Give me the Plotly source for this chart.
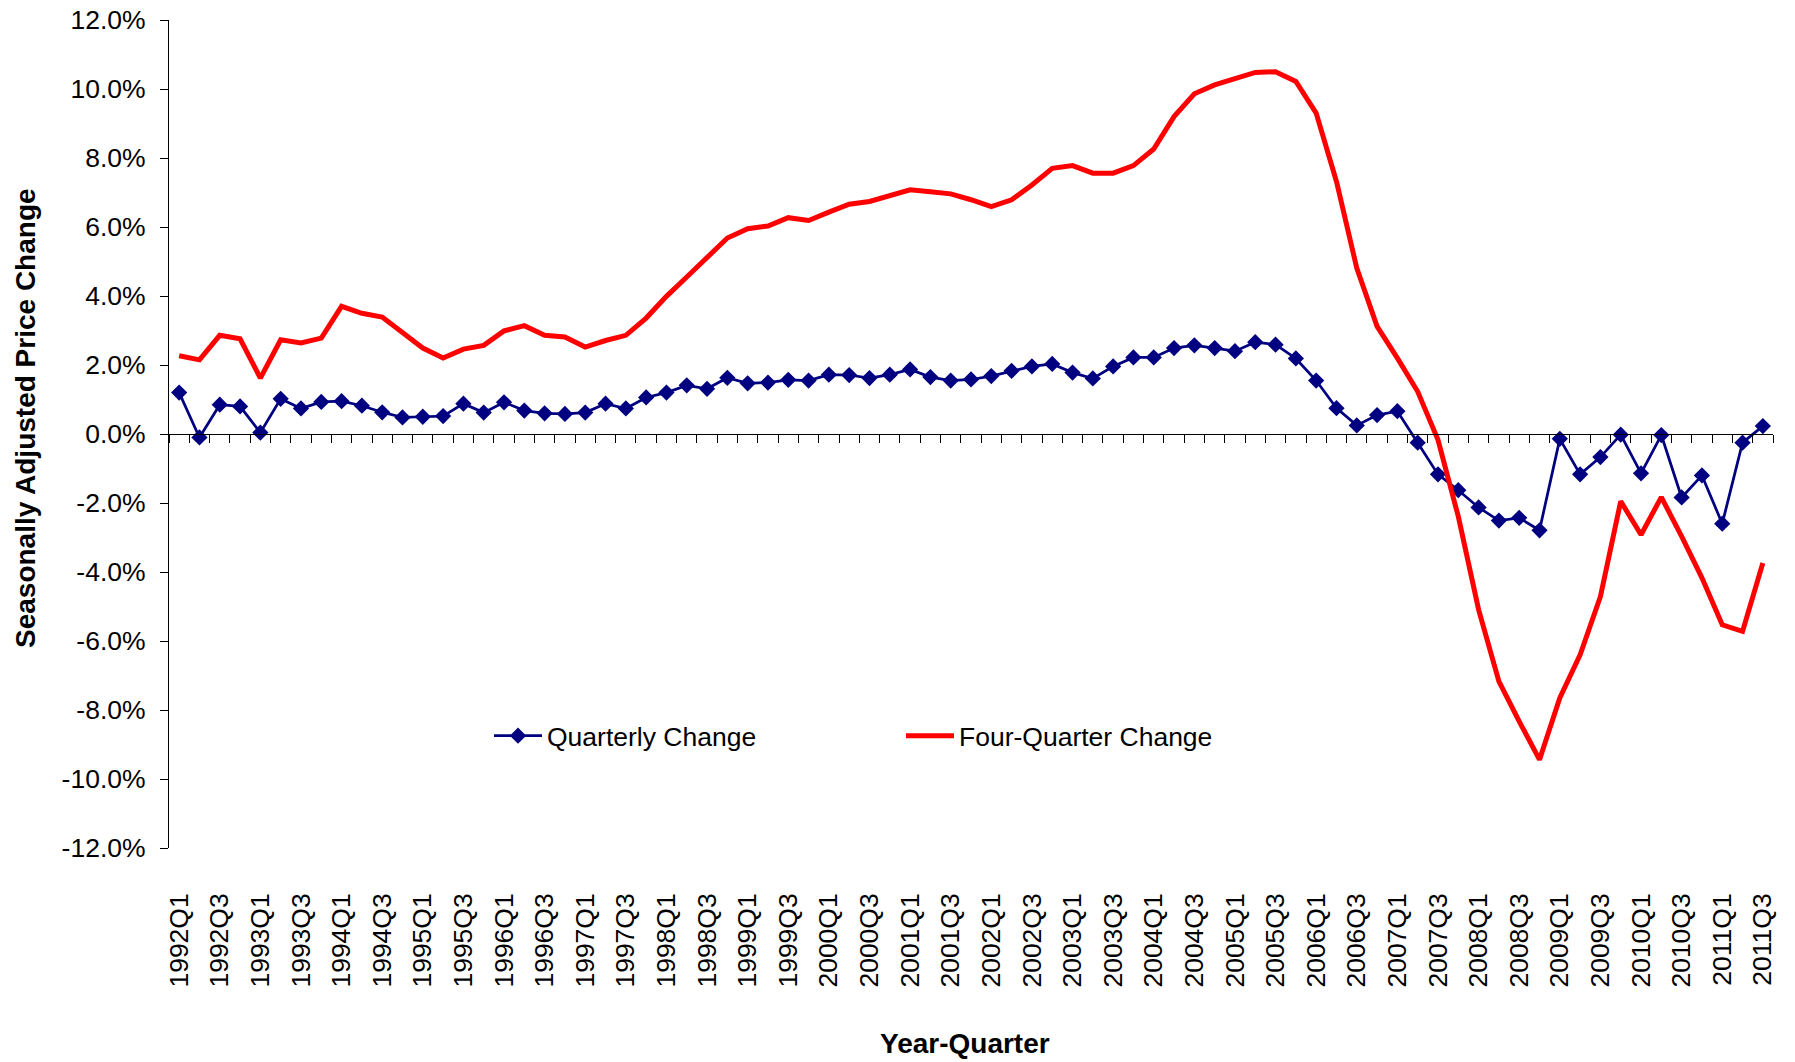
import plotly.graph_objects as go

years = list(range(1992, 2012))
quarters = [f"{y}Q{q}" for y in years for q in range(1, 5)][:79]

quarterly_change = [
    1.2, -0.1, 0.85, 0.8, 0.04, 1.02, 0.74, 0.93, 0.95, 0.82,
    0.63, 0.48, 0.5, 0.52, 0.88, 0.62, 0.92, 0.68, 0.6, 0.58,
    0.62, 0.88, 0.74, 1.06, 1.2, 1.41, 1.31, 1.63, 1.47, 1.49,
    1.57, 1.55, 1.72, 1.71, 1.62, 1.72, 1.87, 1.65, 1.55, 1.58,
    1.68, 1.83, 1.96, 2.03, 1.78, 1.61, 1.96, 2.22, 2.22, 2.49,
    2.57, 2.49, 2.4, 2.66, 2.59, 2.19, 1.55, 0.75, 0.25, 0.55,
    0.66, -0.25, -1.17, -1.63, -2.13, -2.51, -2.43, -2.79, -0.14, -1.17,
    -0.67, -0.02, -1.14, -0.03, -1.84, -1.2, -2.6, -0.25, 0.23,
]

four_quarter_change = [
    2.27, 2.15, 2.86, 2.76, 1.62, 2.73, 2.64, 2.78, 3.7, 3.5,
    3.39, 2.92, 2.49, 2.2, 2.46, 2.57, 2.99, 3.14, 2.86, 2.81,
    2.52, 2.71, 2.86, 3.36, 3.99, 4.55, 5.1, 5.68, 5.95, 6.03,
    6.27, 6.19, 6.43, 6.66, 6.74, 6.91, 7.08, 7.02, 6.96, 6.79,
    6.59, 6.79, 7.22, 7.7, 7.78, 7.56, 7.56, 7.78, 8.26, 9.2,
    9.86, 10.12, 10.29, 10.48, 10.5, 10.22, 9.3, 7.32, 4.81, 3.12,
    2.2, 1.23, -0.17, -2.39, -5.09, -7.17, -8.33, -9.44, -7.65, -6.4,
    -4.71, -1.95, -2.92, -1.83, -2.97, -4.17, -5.53, -5.72, -3.74,
]

y_ticks = [-12, -10, -8, -6, -4, -2, 0, 2, 4, 6, 8, 10, 12]
y_tick_text = [f"{v:.1f}%" for v in y_ticks]

FONT = "Liberation Sans, Arial, sans-serif"
NAVY = "#000080"
RED = "#FF0000"

fig = go.Figure()
fig.add_trace(go.Scatter(
    x=quarters, y=quarterly_change, name="Quarterly Change",
    mode="lines+markers", xaxis="x", yaxis="y",
    line=dict(color=NAVY, width=2.75),
    marker=dict(symbol="diamond", size=12.5, color=NAVY),
))
fig.add_trace(go.Scatter(
    x=quarters, y=four_quarter_change, name="Four-Quarter Change",
    mode="lines", xaxis="x2", yaxis="y",
    line=dict(color=RED, width=5),
))

L, R, T, B = 169, 22, 20, 214
W, H = 1795, 1062
PW, PH = W - L - R, H - T - B


def px_x(v):
    return (v - L) / PW


def px_y(v):
    return (H - B - v) / PH


fig.update_layout(
    width=W, height=H,
    margin=dict(l=L, r=R, t=T, b=B, pad=0),
    paper_bgcolor="white", plot_bgcolor="white",
    font=dict(family=FONT, size=26.5, color="black"),
    showlegend=True,
    legend=dict(
        orientation="h", x=px_x(489), y=px_y(736),
        xanchor="left", yanchor="middle",
        itemwidth=48,
        entrywidth=349, entrywidthmode="pixels",
        font=dict(family=FONT, size=26.5, color="black"),
        bgcolor="rgba(0,0,0,0)",
    ),
    xaxis=dict(
        type="category", categoryorder="array", categoryarray=quarters,
        range=[-0.5, 78.5], domain=[0, 1], anchor="y",
        tickmode="linear", tick0=0, dtick=2, tickangle=-90,
        ticks="", showline=False, showgrid=False, zeroline=False,
        ticklabelstandoff=39, automargin=False,
        tickfont=dict(family=FONT, size=26.5, color="black"),
    ),
    xaxis2=dict(
        type="category", categoryorder="array", categoryarray=quarters,
        range=[-0.5, 78.5], overlaying="x", anchor="free", position=0.5,
        side="bottom", tickmode="linear", tick0=0, dtick=1,
        tickson="boundaries", ticks="outside", ticklen=8, tickwidth=1,
        tickcolor="black", showticklabels=False,
        showline=True, linecolor="black", linewidth=1,
        showgrid=False, zeroline=False, automargin=False,
    ),
    yaxis=dict(
        range=[-12, 12], domain=[0, 1], anchor="x",
        tickmode="array", tickvals=y_ticks, ticktext=y_tick_text,
        ticks="outside", ticklen=8, tickwidth=1, tickcolor="black",
        showline=True, linecolor="black", linewidth=1.3,
        showgrid=False, zeroline=False, automargin=False,
        ticklabelstandoff=9,
        tickfont=dict(family=FONT, size=26.5, color="black"),
    ),
    annotations=[
        dict(text="Seasonally Adjusted Price Change", textangle=-90,
             xref="paper", yref="paper", x=px_x(25), y=px_y(418),
             xanchor="center", yanchor="middle", showarrow=False,
             font=dict(family=FONT, size=28, color="black", weight="bold")),
        dict(text="Year-Quarter",
             xref="paper", yref="paper", x=px_x(965), y=px_y(1043),
             xanchor="center", yanchor="middle", showarrow=False,
             font=dict(family=FONT, size=28, color="black", weight="bold")),
    ],
)

fig.write_html("out.html", config={"displayModeBar": False},
               post_script="document.body.style.margin='0';")
